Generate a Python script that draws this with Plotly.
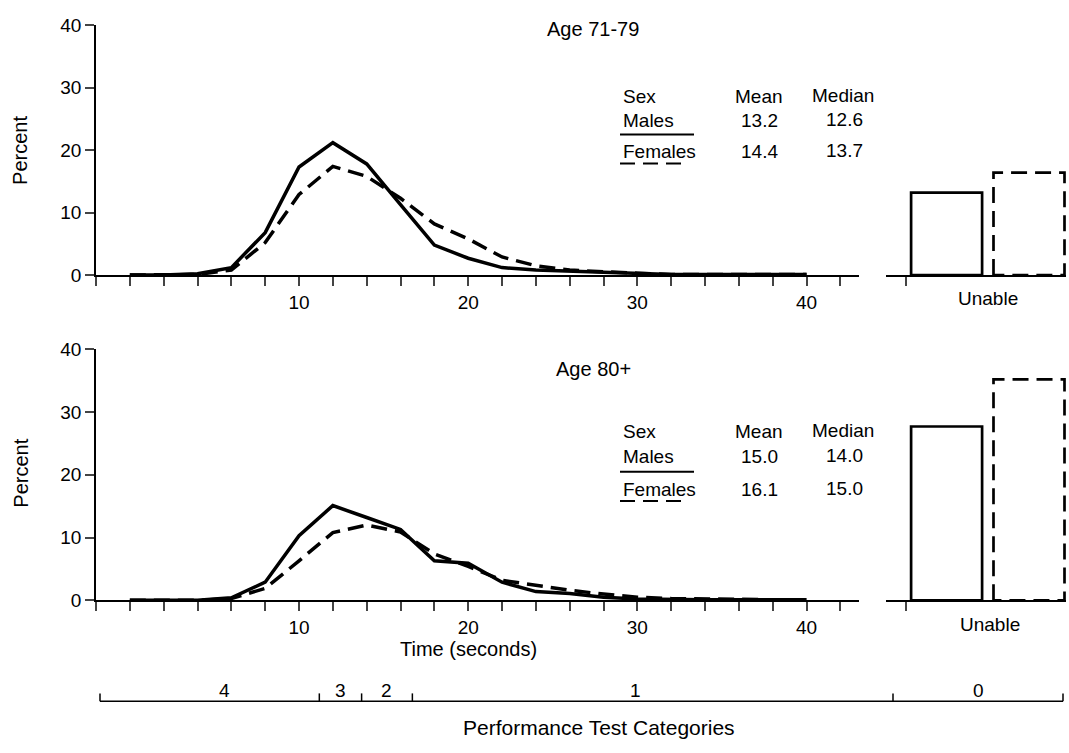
import plotly.graph_objects as go

# ---------------- data ----------------
time_s = [0, 2, 4, 6, 8, 10, 12, 14, 16, 18, 20, 22, 24, 26, 28, 30, 32, 34, 36, 38, 40]

males_71_79 = [0, 0, 0.2, 1.2, 6.8, 17.3, 21.2, 17.8, 11.3, 4.8, 2.7, 1.2, 0.8, 0.6, 0.4, 0.2, 0.1, 0.1, 0.1, 0.1, 0.1]
females_71_79 = [0, 0, 0.1, 0.8, 5.2, 12.9, 17.4, 15.8, 12.3, 8.2, 5.8, 2.9, 1.5, 0.8, 0.5, 0.3, 0.1, 0.1, 0.1, 0.1, 0.1]

males_80 = [0, 0, 0, 0.4, 2.9, 10.3, 15.1, 13.2, 11.3, 6.3, 5.9, 2.9, 1.4, 1.1, 0.5, 0.2, 0.1, 0.1, 0.1, 0.1, 0.1]
females_80 = [0, 0, 0, 0.3, 1.9, 6.3, 10.8, 12.0, 10.9, 7.4, 5.4, 3.2, 2.4, 1.6, 1.0, 0.5, 0.3, 0.2, 0.1, 0.1, 0.1]

unable_71_79 = [13.2, 16.4]   # males, females
unable_80 = [27.7, 35.2]

panel_titles = ["Age 71-79", "Age 80+"]
sexes = ["Males", "Females"]
means_71_79 = ["13.2", "14.4"]
medians_71_79 = ["12.6", "13.7"]
means_80 = ["15.0", "16.1"]
medians_80 = ["14.0", "15.0"]

category_labels = ["4", "3", "2", "1", "0"]
category_bounds = [11.2, 13.7, 16.7]   # seconds

x_ticks = list(range(-2, 43, 2))
x_ticktext = [str(v) if v in (10, 20, 30, 40) else "" for v in x_ticks]
y_ticks = [0, 10, 20, 30, 40]

# ---------------- layout helpers ----------------
W, H = 1069, 753
def px(x):
    return x / W
def py(y):
    return 1 - y / H

FONT = "Liberation Sans, Arial, Helvetica, sans-serif"
DASH = "16px,8px"
LW = 3.5
BAR_LW = 2.7
bar_centers = [3.03, 7.15]
bar_width = 3.55

fig = go.Figure()

panels = [
    dict(xa="x", ya="y", m=males_71_79, f=females_71_79, u=unable_71_79, bx="x2", by="y2"),
    dict(xa="x3", ya="y3", m=males_80, f=females_80, u=unable_80, bx="x4", by="y4"),
]

for p in panels:
    fig.add_trace(go.Scatter(x=time_s, y=p["f"], mode="lines", xaxis=p["xa"], yaxis=p["ya"],
                             line=dict(color="black", width=LW, dash=DASH), showlegend=False,
                             hoverinfo="skip"))
    fig.add_trace(go.Scatter(x=time_s, y=p["m"], mode="lines", xaxis=p["xa"], yaxis=p["ya"],
                             line=dict(color="black", width=LW), showlegend=False,
                             hoverinfo="skip"))
    for i, h in enumerate(p["u"]):
        c = bar_centers[i]
        x0, x1 = c - bar_width / 2, c + bar_width / 2
        fig.add_trace(go.Scatter(x=[x0, x0, x1, x1, x0], y=[0, h, h, 0, 0], mode="lines",
                                 xaxis=p["bx"], yaxis=p["by"],
                                 line=dict(color="black", width=BAR_LW,
                                           dash=(DASH if i == 1 else "solid")),
                                 showlegend=False, hoverinfo="skip"))

time_dom = [px(96), px(859)]
bar_dom = [px(886), px(1066)]
top_dom = [py(272.7), py(15.7)]
bot_dom = [py(607.3), py(349)]

def time_axis(anchor):
    return dict(domain=time_dom, anchor=anchor, range=[-2, 43.1], tickmode="array",
                tickvals=x_ticks, ticktext=x_ticktext, ticks="outside", ticklen=9, tickwidth=1.5,
                showline=True, linewidth=1.5, linecolor="black", showgrid=False, zeroline=False,
                tickfont=dict(family=FONT, size=19, color="black"), fixedrange=True)

def y_axis(anchor, dom):
    return dict(domain=dom, anchor=anchor, range=[0, 40], tickmode="array", tickvals=y_ticks,
                ticks="outside", ticklen=9, tickwidth=1.5, showline=True, linewidth=1.5,
                linecolor="black", showgrid=False, zeroline=False,
                tickfont=dict(family=FONT, size=19, color="black"), fixedrange=True)

def bar_x_axis(anchor):
    return dict(domain=bar_dom, anchor=anchor, range=[0, 9], tickmode="array", tickvals=[1.0],
                ticktext=[""], ticks="outside", ticklen=9, tickwidth=1.5, showline=True,
                linewidth=1.5, linecolor="black", showgrid=False, zeroline=False, fixedrange=True)

def bar_y_axis(anchor, dom):
    return dict(domain=dom, anchor=anchor, range=[0, 40], showline=False, showticklabels=False,
                ticks="", showgrid=False, zeroline=False, fixedrange=True)

annotations = []
shapes = []

def txt(text, x, y, xanchor="center", size=19, xref="paper", yref="paper", angle=0):
    annotations.append(dict(text=text, x=x, y=y, xref=xref, yref=yref, xanchor=xanchor,
                            yanchor="middle", showarrow=False, textangle=angle,
                            font=dict(family=FONT, size=size, color="black")))

# Titles and axis labels
txt(panel_titles[0], px(593), py(20), size=20)
txt(panel_titles[1], px(593), py(369), size=20)
txt("Percent", px(20), py(145), size=20, angle=-90)
txt("Percent", px(21), py(477), size=20, angle=-90)
txt("Time (seconds)", 20, py(657), size=20, xref="x3")
txt("Unable", 5.1, py(297), size=19, xref="x2")
txt("Unable", 5.2, py(632), size=19, xref="x4")

# Legend tables
legends = [
    dict(rows=[89, 114, 146], lines=[128, 158], means=means_71_79, medians=medians_71_79),
    dict(rows=[434, 459, 493], lines=[475, 505], means=means_80, medians=medians_80),
]
for L in legends:
    r = L["rows"]
    txt("Sex", px(621), py(r[0]), xanchor="left")
    txt("Mean", px(759), py(r[0]))
    txt("Median", px(843), py(r[0] - 1))
    for i in range(2):
        txt(sexes[i], px(621), py(r[i + 1]), xanchor="left")
        txt(L["means"][i], px(759), py(r[i + 1]))
        txt(L["medians"][i], px(844), py(r[i + 1] - 1))
    shapes.append(dict(type="line", xref="paper", yref="paper", x0=px(620), x1=px(694),
                       y0=py(L["lines"][0]), y1=py(L["lines"][0]),
                       line=dict(color="black", width=2)))
    shapes.append(dict(type="line", xref="paper", yref="paper", x0=px(620), x1=px(688),
                       y0=py(L["lines"][1]), y1=py(L["lines"][1]),
                       line=dict(color="black", width=2, dash="15px,8px")))

# Performance test categories bracket
yb, yt = py(711), py(703)
shapes.append(dict(type="line", xref="paper", yref="paper", x0=px(100), x1=px(1063), y0=yb, y1=yb,
                   line=dict(color="black", width=1.5)))
for xx in [100, 893, 1063]:
    shapes.append(dict(type="line", xref="paper", yref="paper", x0=px(xx), x1=px(xx), y0=yb, y1=yt,
                       line=dict(color="black", width=1.5)))
for b in category_bounds:
    shapes.append(dict(type="line", xref="x3", yref="paper", x0=b, x1=b, y0=yb, y1=yt,
                       line=dict(color="black", width=1.5)))
seg_edges = [0] + category_bounds + [43.1]
for i in range(4):
    txt(category_labels[i], (seg_edges[i] + seg_edges[i + 1]) / 2, py(700), size=19, xref="x3")
txt(category_labels[4], px((893 + 1063) / 2), py(700), size=19)
txt("Performance Test Categories", px(599), py(738), size=21)

fig.update_layout(
    width=W, height=H, margin=dict(l=0, r=0, t=0, b=0), autosize=False,
    paper_bgcolor="white", plot_bgcolor="white",
    xaxis=time_axis("y"), yaxis=y_axis("x", top_dom),
    xaxis2=bar_x_axis("y2"), yaxis2=bar_y_axis("x2", top_dom),
    xaxis3=time_axis("y3"), yaxis3=y_axis("x3", bot_dom),
    xaxis4=bar_x_axis("y4"), yaxis4=bar_y_axis("x4", bot_dom),
    annotations=annotations, shapes=shapes, showlegend=False,
    font=dict(family=FONT, color="black"),
)

fig.write_html("out.html", config={"displayModeBar": False},
               post_script="document.body.style.margin='0';")
